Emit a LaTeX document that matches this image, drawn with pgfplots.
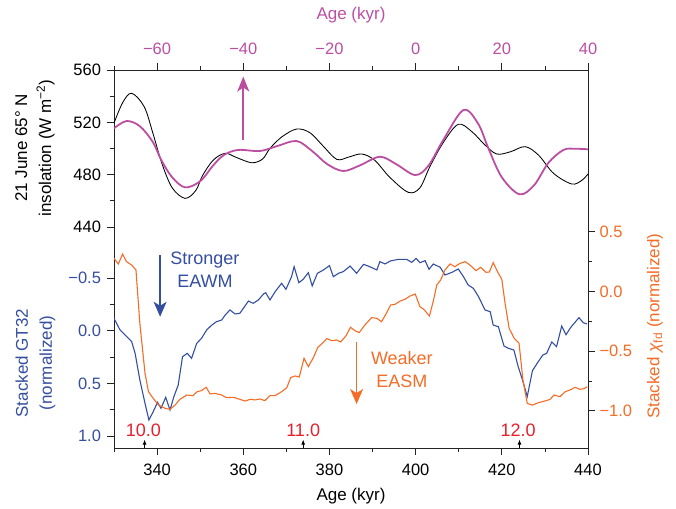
\documentclass[border=0pt]{standalone}
\usepackage{pgfplots}
\pgfplotsset{compat=1.18}
\usetikzlibrary{arrows.meta}
\usepackage{fontspec}
\setmainfont{Liberation Sans}
\definecolor{mag}{RGB}{188,78,162}
\definecolor{gtblue}{RGB}{52,78,160}
\definecolor{chiorange}{RGB}{244,108,38}
\definecolor{labred}{RGB}{232,32,44}
\definecolor{axgray}{RGB}{35,35,35}
\newcommand{\tickfont}{\fontsize{16.5}{19}\selectfont}
\newcommand{\labfont}{\fontsize{17}{24}\selectfont}
\newcommand{\annfont}{\fontsize{18}{23}\selectfont}
\pgfplotsset{
  base/.style={
    width=474pt, height=378pt, scale only axis,
    xmin=330, xmax=440,
    tick align=outside,
    major tick length=7pt, minor tick length=4pt,
    every tick/.append style={axgray, line width=0.8pt},
    every minor tick/.append style={axgray, line width=0.8pt},
    tick label style={font=\tickfont},
    axis line style={axgray, line width=0.9pt},
  }
}
\begin{document}
\begin{tikzpicture}
% ---- frame, bottom axis, insolation (black) ----
\begin{axis}[base, clip=false,
  ymin=271.1, ymax=560,
  tick pos=left,
  xtick={340,360,380,400,420,440}, xticklabels={340,360,380,400,420,440},
  minor xtick={330,350,370,390,410,430},
  ytick={440,480,520,560}, yticklabels={440,480,520,560},
  minor ytick={460,500,540},
  xticklabel style={yshift=-5pt},
  yticklabel style={xshift=-2.5pt},
]
\addplot[black, line width=0.85pt, smooth, tension=0.55] coordinates {
(330,519.3) (332,535) (334.1,542.2) (337,532) (339,512) (341.1,488.7) (343.5,470)
(346.5,461.9) (349,468) (350.5,479) (353,491) (355.8,496.3) (358.5,493) (362,489.1)
(364.5,492) (366.2,500.1) (369,509) (372.4,514.9) (375.5,512) (378.5,502) (381.7,491.7)
(384.5,493.5) (387.5,495.8) (390.5,491) (394,478) (398.3,466.5) (401,470) (403.3,486.1)
(406.5,505) (409.9,518.5) (413,513) (416,503) (418.8,495.8) (422,497.5) (425.4,501.4)
(428.5,495) (432,481) (436.2,472.9) (438.5,475.5) (440,480.5)
};
% annotations
\draw[mag, line width=1.8pt, -{Stealth[length=15pt,width=12pt,inset=4pt]}] (axis cs:360,506.5) -- (axis cs:360,555);
\draw[gtblue, line width=1.3pt, -{Stealth[length=15pt,width=13pt,inset=4pt]}] (axis cs:340.7,418.6) -- (axis cs:340.7,371.4);
\draw[chiorange, line width=1.3pt, -{Stealth[length=15pt,width=13pt,inset=4pt]}] (axis cs:386.3,352.3) -- (axis cs:386.3,304.7);
\node[gtblue, font=\annfont, align=center] at (axis cs:351.1,407.5) {Stronger\\EAWM};
\node[chiorange, font=\annfont, align=center] at (axis cs:396.8,330.7) {Weaker\\EASM};
\node[labred, font=\annfont] at (axis cs:336.8,284.8) {10.0};
\node[labred, font=\annfont] at (axis cs:373.9,284.8) {11.0};
\node[labred, font=\annfont] at (axis cs:423.8,284.8) {12.0};
\draw[black, line width=0.8pt, -{Latex[length=5pt,width=4pt]}] (axis cs:337.1,271.1) -- (axis cs:337.1,277.5);
\draw[black, line width=0.8pt, -{Latex[length=5pt,width=4pt]}] (axis cs:373.9,271.1) -- (axis cs:373.9,277.5);
\draw[black, line width=0.8pt, -{Latex[length=5pt,width=4pt]}] (axis cs:424.1,271.1) -- (axis cs:424.1,277.5);
% labels
\node[rotate=90, font=\labfont, align=center] at (axis cs:311.67,500.4) {21 June 65° N\\insolation (W m\textsuperscript{−2})};
\node[rotate=90, font=\labfont, align=center, gtblue] at (axis cs:311.8,336.0) {Stacked GT32\\(normalized)};
\node[rotate=90, font=\labfont, chiorange] at (axis cs:455.55,364.3) {Stacked \textit{χ}\textsubscript{fd} (normalized)};
\node[font=\labfont, mag] at (axis cs:385,602) {Age (kyr)};
\node[font=\labfont] at (axis cs:385,234.4) {Age (kyr)};
\end{axis}
% ---- top axis, insolation (magenta) ----
\begin{axis}[base, xmin=-70, xmax=40, ymin=271.1, ymax=560,
  axis x line*=top, hide y axis, axis line style={draw=none},
  xtick={-60,-40,-20,0,20,40}, xticklabels={−60,−40,−20,0,20,40},
  minor xtick={-70,-50,-30,-10,10,30},
  xticklabel style={mag, yshift=5pt},
]
\addplot[mag, line width=1.8pt, smooth, tension=0.55] coordinates {
(-70,515.4) (-67.1,521.0) (-64,517) (-61,505) (-59,491) (-56.5,478) (-53.5,470.3)
(-50,475) (-47,487) (-44.5,495) (-41.2,498.9) (-36.1,498.1) (-32,502) (-27.6,505.7)
(-24,498) (-20.5,488) (-16.8,482.8) (-13,487) (-8.3,493.7) (-4.5,488) (-0.1,479.7)
(3,487) (6.5,507) (11.1,529.4) (14.5,519) (16.9,500) (20,478) (24.1,465.0) (27.5,472)
(30.8,489) (34.3,498.9) (37,499.8) (40,499.4)
};
\end{axis}
% ---- blue GT32 (reversed left axis) ----
\begin{axis}[base, y dir=reverse, ymin=-2.476, ymax=1.114,
  hide x axis, axis y line*=left, axis line style={draw=none},
  ytick={-0.5,0,0.5,1}, yticklabels={−0.5,0.0,0.5,1.0},
  minor ytick={-0.25,0.25,0.75},
  yticklabel style={gtblue, xshift=-2.5pt},
]
\addplot[gtblue, line width=1.1pt] coordinates {
(330.0,-0.117) (331.4,-0.007) (332.6,0.041) (334.1,0.104) (334.9,0.215) (336.0,0.468)
(337.2,0.690) (338.1,0.848) (339.1,0.769) (340.1,0.680) (340.9,0.737) (342.0,0.633)
(343.0,0.753) (343.9,0.626) (344.9,0.516) (345.9,0.247) (347.0,0.215) (348.0,0.262)
(349.2,0.120) (350.3,0.073) (351.5,-0.007) (352.7,-0.054) (353.8,-0.086) (355.0,-0.102)
(355.8,-0.149) (356.9,-0.197) (358.1,-0.159) (359.2,-0.165) (361.2,-0.282) (362.3,-0.260)
(363.5,-0.292) (364.7,-0.349) (365.2,-0.361) (366.2,-0.292) (367.4,-0.371) (368.9,-0.450)
(369.9,-0.393) (371.2,-0.513) (371.8,-0.608) (372.9,-0.456) (373.9,-0.488) (375.1,-0.551)
(376.0,-0.425) (377.2,-0.545) (378.6,-0.577) (380.0,-0.618) (380.9,-0.513) (382.1,-0.545)
(383.2,-0.561) (384.8,-0.614) (386.3,-0.545) (387.9,-0.630) (389.0,-0.614) (391.0,-0.577)
(391.7,-0.656) (392.9,-0.634) (394.1,-0.662) (396.0,-0.678) (397.9,-0.678) (399.1,-0.649)
(400.1,-0.687) (401.0,-0.646) (402.2,-0.665) (403.1,-0.583) (404.1,-0.634) (405.7,-0.602)
(406.8,-0.529) (408.4,-0.554) (409.9,-0.586) (411.1,-0.513) (412.2,-0.434) (413.4,-0.402)
(414.6,-0.323) (416.1,-0.197) (417.3,-0.181) (418.0,-0.054) (419.2,-0.038) (420.5,0.145)
(421.5,0.167) (422.8,0.183) (423.8,0.342) (424.8,0.468) (425.9,0.626) (427.1,0.380)
(428.2,0.310) (429.5,0.231) (430.4,0.215) (431.6,0.107) (432.7,0.151) (433.9,-0.045)
(434.9,0.038) (436.0,-0.032) (437.9,-0.124) (438.9,-0.076) (439.8,-0.064)
};
\end{axis}
% ---- orange chi_fd (right axis) ----
\begin{axis}[base, ymin=-1.312, ymax=1.857,
  hide x axis, axis y line*=right, axis line style={draw=none},
  ytick={-1,-0.5,0,0.5}, yticklabels={−1.0,−0.5,0.0,0.5},
  minor ytick={-0.75,-0.25,0.25},
  yticklabel style={chiorange, xshift=1pt},
]
\addplot[chiorange, line width=1.1pt] coordinates {
(330.0,0.278) (331.0,0.231) (332.0,0.314) (332.9,0.250) (334.1,0.222) (335.1,0.180)
(336.0,-0.267) (337.2,-0.686) (338.0,-0.840) (339.1,-0.896) (340.3,-0.951) (341.8,-0.979)
(343.0,-0.988) (344.2,-0.951) (345.3,-0.904) (346.9,-0.868) (348.3,-0.873) (349.3,-0.840)
(350.3,-0.831) (351.4,-0.803) (352.3,-0.859) (353.4,-0.854) (355.0,-0.868) (356.1,-0.890)
(357.7,-0.887) (359.2,-0.904) (360.4,-0.918) (361.6,-0.904) (362.7,-0.909) (363.9,-0.901)
(365.0,-0.915) (366.2,-0.873) (367.4,-0.873) (368.9,-0.840) (370.1,-0.806) (371.0,-0.722)
(372.0,-0.708) (373.0,-0.717) (374.1,-0.560) (375.1,-0.630) (376.3,-0.552) (377.3,-0.468)
(378.2,-0.440) (379.4,-0.395) (380.5,-0.412) (381.7,-0.407) (382.6,-0.423) (383.8,-0.373)
(384.9,-0.300) (385.9,-0.328) (386.9,-0.345) (388.2,-0.281) (389.8,-0.219) (391.0,-0.225)
(392.1,-0.253) (393.3,-0.177) (394.2,-0.113) (395.2,-0.108) (396.4,-0.080) (397.5,-0.066)
(398.7,-0.038) (399.9,-0.021) (401.0,-0.127) (401.9,-0.150) (403.2,-0.205) (404.1,-0.080)
(404.9,0.054) (405.8,0.096) (406.8,0.180) (408.0,0.231) (409.1,0.208) (410.3,0.236)
(411.5,0.250) (412.6,0.222) (414.0,0.175) (415.1,0.203) (416.3,0.161) (417.1,0.163)
(418.0,0.242) (419.0,0.166) (420.0,0.102) (420.7,-0.085) (421.7,-0.309) (422.9,-0.393)
(424.0,-0.434) (424.9,-0.742) (425.9,-0.938) (427.1,-0.952) (428.5,-0.932) (430.0,-0.918)
(431.2,-0.904) (432.1,-0.868) (433.5,-0.882) (434.7,-0.840) (435.8,-0.826) (437.0,-0.803)
(438.1,-0.820) (439.1,-0.815) (439.8,-0.798)
};
\end{axis}
\pgfresetboundingbox
\path[use as bounding box] (-114pt,-60pt) rectangle (562pt,448pt);
\end{tikzpicture}
\end{document}
